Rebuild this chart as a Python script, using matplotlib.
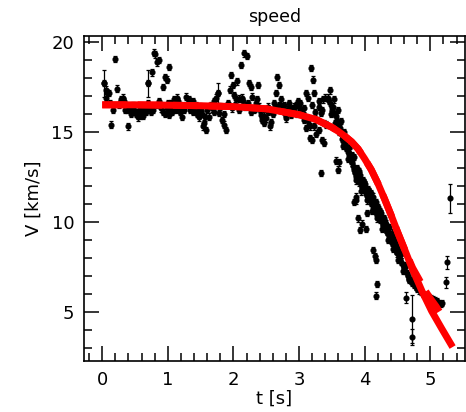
import matplotlib
matplotlib.use("Agg")
import matplotlib.pyplot as plt
from matplotlib.ticker import MultipleLocator

# ---- measured data (t [s], V [km/s]) ----
t_flat = [0.03, 0.06, 0.08, 0.10, 0.14, 0.20, 0.23, 0.25, 0.27, 0.29, 0.31, 0.33, 0.36, 0.38, 0.40,
          0.42, 0.44, 0.46, 0.49, 0.52, 0.55, 0.58, 0.61, 0.64, 0.67, 0.70, 0.72, 0.74, 0.76, 0.79,
          0.81, 0.84, 0.87, 0.87, 0.89, 0.92, 0.93, 0.95, 0.98, 0.99, 1.02, 1.02, 1.05, 1.08, 1.10,
          1.12, 1.14, 1.16, 1.19, 1.22, 1.25, 1.28, 1.30, 1.33, 1.36, 1.39, 1.41, 1.44, 1.47, 1.50,
          1.53, 1.55, 1.58, 1.63, 1.68, 1.71, 1.77, 1.78, 1.83, 1.86, 1.89, 1.94, 1.96, 1.99, 2.01,
          2.04, 2.06, 2.09, 2.11, 2.14, 2.16, 2.20, 2.24, 2.27, 2.29, 2.31, 2.34, 2.37, 2.39, 2.42,
          2.44, 2.47, 2.50, 2.53, 2.55, 2.57, 2.60, 2.62, 2.65, 2.67, 2.70, 2.72, 2.75, 2.77, 2.80,
          2.82, 2.85, 2.88, 2.90, 2.93, 2.95, 2.98, 3.00, 3.03, 3.06, 3.08, 3.11, 3.11, 3.14, 3.16,
          3.18, 3.21, 3.23, 3.23, 3.26, 3.28, 3.31, 3.33, 3.36, 3.38, 3.41]
v_flat = [17.70, 17.35, 17.20, 17.15, 15.40, 19.05, 17.40, 16.50, 16.60, 16.80, 16.90, 16.70, 16.50, 16.20, 15.30,
          16.30, 16.00, 16.30, 16.20, 16.00, 15.80, 15.90, 16.00, 16.20, 16.10, 17.70, 16.40, 16.10, 18.30, 19.40,
          19.30, 18.85, 19.00, 16.70, 16.30, 17.50, 16.10, 18.05, 16.30, 17.90, 15.95, 18.60, 16.60, 16.20, 16.80,
          16.20, 16.90, 16.30, 16.50, 15.85, 16.40, 16.95, 16.60, 16.20, 16.60, 16.70, 16.30, 16.00, 15.80, 16.20,
          15.30, 15.50, 15.10, 15.85, 16.30, 16.70, 17.15, 16.05, 15.65, 15.40, 15.10, 17.35, 18.15, 17.60, 17.05,
          16.80, 17.80, 16.85, 18.70, 16.70, 19.35, 19.20, 17.70, 17.50, 16.95, 16.20, 16.60, 17.60, 16.40, 15.95,
          15.65, 15.50, 15.75, 16.10, 15.30, 15.55, 16.00, 16.60, 17.15, 18.05, 17.60, 16.80, 16.40, 16.50, 15.75,
          16.15, 16.40, 15.95, 16.30, 16.15, 16.50, 16.70, 16.40, 16.15, 16.00, 15.65, 15.20, 17.15, 15.60, 14.65,
          18.55, 17.90, 17.15, 15.30, 14.90, 15.65, 16.40, 16.05, 16.80, 15.50, 15.40]

t_flat2 = [0.05, 0.12, 0.17, 0.35, 0.47, 0.53, 0.57, 0.62, 0.66, 0.69, 0.78, 0.83, 0.90, 0.96, 1.00,
           1.04, 1.07, 1.11, 1.15, 1.18, 1.21, 1.24, 1.27, 1.32, 1.35, 1.38, 1.43, 1.46, 1.49, 1.52,
           1.57, 1.60, 1.65, 1.70, 1.74, 1.80, 1.85, 1.92, 1.98, 2.03, 2.08, 2.13, 2.18, 2.22, 2.26,
           2.33, 2.36, 2.41, 2.46, 2.52, 2.58, 2.63, 2.69, 2.74, 2.79, 2.84, 2.87, 2.92, 2.97, 3.02,
           3.07, 3.13, 3.20, 3.25, 3.30, 3.35, 3.40]
v_flat2 = [16.90, 16.60, 16.20, 16.20, 16.50, 16.10, 16.30, 15.90, 16.40, 16.60, 16.20, 16.50, 16.50, 16.00, 16.60,
           16.40, 16.10, 16.50, 16.70, 16.10, 16.40, 16.20, 16.50, 16.80, 16.40, 16.10, 16.50, 16.20, 16.40, 16.00,
           15.80, 16.20, 16.50, 16.10, 16.90, 16.40, 16.00, 16.60, 16.30, 16.50, 16.20, 16.90, 16.40, 16.60, 16.10,
           16.30, 16.80, 16.20, 15.90, 16.40, 16.10, 16.30, 16.50, 16.20, 16.00, 16.60, 16.20, 16.40, 16.00, 16.60,
           16.30, 16.90, 16.50, 16.10, 16.70, 16.20, 16.90]

t_drop = [3.44, 3.46, 3.48, 3.50, 3.52, 3.54, 3.56, 3.58, 3.60, 3.62, 3.63, 3.65, 3.66, 3.68, 3.70,
          3.72, 3.74, 3.76, 3.77, 3.79, 3.80, 3.82, 3.84, 3.85, 3.87, 3.89, 3.90, 3.92, 3.94, 3.96,
          3.98, 4.00, 4.02, 4.04, 4.06, 4.08, 4.10, 4.12, 4.14, 4.16, 4.18, 4.20, 4.22, 4.24, 4.26,
          4.28, 4.30, 4.32, 4.34, 4.36, 4.38, 4.40, 4.42, 4.44, 4.46, 4.48, 4.50, 4.52, 4.54, 4.56,
          4.58, 4.60, 4.62, 4.64, 4.66, 4.68, 4.70, 4.72, 4.75, 4.78, 4.80, 4.83, 4.86, 4.89, 4.92,
          4.95, 4.98, 5.01, 5.04, 5.07, 5.10, 5.13, 5.16, 5.18,
          3.47, 3.53, 3.59, 3.64, 3.69, 3.73, 3.78, 3.83, 3.88, 3.93, 3.97, 4.01, 4.05, 4.09, 4.13,
          4.17, 4.21, 4.25, 4.29, 4.33, 4.37, 4.41, 4.45, 4.49, 4.53]
v_drop = [16.90, 16.70, 16.50, 16.20, 16.40, 16.00, 15.90, 15.60, 15.50, 15.20, 15.00, 14.80, 14.60, 14.40, 14.30,
          14.10, 13.90, 13.80, 13.60, 13.40, 13.30, 13.10, 12.90, 12.70, 12.50, 12.40, 12.30, 12.20, 12.10, 11.95,
          11.80, 11.70, 11.60, 11.45, 11.30, 11.20, 11.05, 10.90, 10.80, 10.65, 10.50, 10.40, 10.25, 10.10, 10.00,
          9.85, 9.70, 9.55, 9.45, 9.30, 9.15, 9.00, 8.85, 8.70, 8.55, 8.40, 8.25, 8.10, 7.95, 7.80,
          7.60, 7.45, 7.30, 7.15, 7.00, 6.85, 6.75, 6.60, 6.50, 6.40, 6.30, 6.20, 6.10, 6.00, 5.90,
          5.85, 5.80, 5.75, 5.70, 5.65, 5.60, 5.50, 5.45, 5.50,
          17.30, 16.80, 16.20, 15.60, 15.00, 14.60, 14.20, 13.60, 13.00, 12.60, 12.30, 12.10, 11.80, 11.60, 11.40,
          11.10, 10.80, 10.50, 10.20, 9.90, 9.70, 9.40, 9.10, 8.80, 8.50]

t_drop2 = [3.49, 3.55, 3.61, 3.67, 3.71, 3.75, 3.81, 3.86, 3.91, 3.95, 3.99, 4.03, 4.07, 4.11, 4.15,
           4.19, 4.23, 4.27, 4.31, 4.35, 4.39, 4.43, 4.47, 4.51, 4.55, 4.59, 4.63, 4.67]
v_drop2 = [16.00, 15.50, 15.00, 14.20, 14.60, 13.50, 13.70, 12.30, 12.80, 11.70, 12.20, 11.20, 11.70, 10.60, 11.10,
           10.20, 10.60, 9.60, 10.00, 9.00, 9.40, 8.50, 8.90, 7.90, 8.20, 7.30, 7.60, 6.80]

t_low = [3.16, 3.19, 3.31, 3.35, 3.38, 3.34, 3.57, 3.61, 3.59, 3.84, 3.87, 3.87, 3.90, 3.93, 3.96,
         4.02, 4.04, 4.12, 4.15, 4.17, 4.19, 4.17]
v_low = [15.30, 14.55, 15.10, 14.55, 14.40, 12.70, 13.40, 13.30, 12.90, 11.10, 11.20, 11.40, 10.20, 9.55, 9.90,
         9.60, 10.50, 8.45, 8.10, 7.90, 6.55, 5.90]

# points with their own (larger) errors
t_out = [0.03, 0.70, 1.77, 4.63, 4.72, 4.72, 5.24, 5.26, 5.30]
v_out = [17.70, 17.70, 17.15, 5.80, 4.60, 3.60, 6.65, 7.75, 11.30]
e_out = [0.75, 0.75, 0.55, 0.30, 1.35, 0.45, 0.30, 0.35, 0.80]

# ---- fitted models ----
fit1_t = [0.0, 0.5, 1.0, 1.5, 2.0, 2.5, 3.0, 3.25, 3.5, 3.6, 3.7, 3.8, 3.9, 4.0, 4.1,
          4.2, 4.3, 4.4, 4.5, 4.6, 4.73, 4.88, 5.02, 5.17, 5.34]
fit1_v = [16.50, 16.50, 16.48, 16.45, 16.40, 16.28, 15.95, 15.70, 15.25, 15.02, 14.75, 14.45, 14.05, 13.50, 12.90,
          12.15, 11.30, 10.40, 9.45, 8.55, 7.35, 6.10, 5.05, 4.10, 3.05]
fit2_t = [0.0, 0.5, 1.0, 1.5, 2.0, 2.5, 3.0, 3.25, 3.5, 3.6, 3.7, 3.8, 3.9, 4.0, 4.1,
          4.2, 4.3, 4.4, 4.5, 4.6, 4.73, 4.83, 4.91, 5.0, 5.09, 5.17]
fit2_v = [16.50, 16.50, 16.48, 16.45, 16.40, 16.28, 15.95, 15.70, 15.25, 15.02, 14.75, 14.45, 14.05, 13.50, 12.90,
          12.15, 11.30, 10.40, 9.45, 8.55, 7.45, 6.80, 6.25, 5.75, 5.30, 4.83]

plt.rcParams['font.family'] = ['DejaVu Sans']
fig = plt.figure(figsize=(4.66, 4.12), dpi=100)
ax = fig.add_axes([0.180, 0.124, 0.818, 0.789])

eb = dict(fmt='o', color='black', ms=3.4, elinewidth=0.9, capsize=1.6, capthick=0.9, zorder=2)
t_all = t_flat + t_flat2 + t_drop + t_drop2 + t_low
v_all = v_flat + v_flat2 + v_drop + v_drop2 + v_low
ax.errorbar(t_all, v_all, yerr=[0.18] * len(t_all), **eb)
ax.errorbar(t_out, v_out, yerr=e_out, **eb)

ax.plot(fit1_t, fit1_v, color='#ff0000', lw=5, solid_capstyle='butt', zorder=3)
ax.plot(fit2_t, fit2_v, color='#ff0000', lw=5, ls=(0, (3.5, 1.6)), zorder=3)

ax.set_xlim(-0.28, 5.53)
ax.set_ylim(2.28, 20.33)
ax.xaxis.set_major_locator(MultipleLocator(1))
ax.xaxis.set_minor_locator(MultipleLocator(0.2))
ax.yaxis.set_major_locator(MultipleLocator(5))
ax.yaxis.set_minor_locator(MultipleLocator(1))
ax.tick_params(which='both', direction='in', top=True, right=True, width=1.1, labelsize=13, pad=7)
ax.tick_params(which='major', length=11)
ax.tick_params(which='minor', length=5.5)
for s in ax.spines.values():
    s.set_linewidth(1.2)

ax.set_title('speed', fontsize=12.5, pad=10)
ax.set_xlabel('t [s]', fontsize=13, labelpad=1)
ax.set_ylabel('V [km/s]', fontsize=13, labelpad=6)

fig.savefig('out.png', dpi=100)
